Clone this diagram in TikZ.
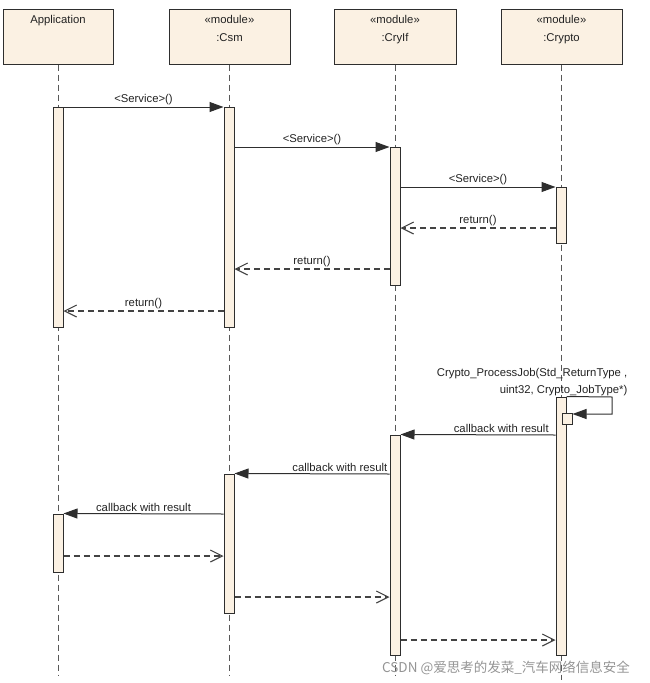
\documentclass[tikz,border=0pt]{standalone}
\usepackage{fontspec}
\setmainfont{Liberation Sans}
\newfontfamily\cjk{Noto Sans CJK SC}
\usetikzlibrary{arrows.meta}
\definecolor{bg}{HTML}{FBF1E3}
\definecolor{ln}{HTML}{2E2E2E}
\definecolor{tx}{HTML}{222222}
\begin{document}
\begin{tikzpicture}[x=1pt,y=-1pt,
  font=\fontsize{11.3}{12}\selectfont,
  hdr/.style={draw=ln, fill=bg, line width=1pt, minimum height=55pt, inner sep=0pt},
  hdrtext/.style={anchor=north, align=center, text=tx, inner sep=0pt, font=\fontsize{11.3}{18}\selectfont},
  act/.style={draw=ln, fill=bg, line width=1pt, minimum width=10pt, inner sep=0pt},
  life/.style={draw=ln!80, dash pattern=on 6pt off 4pt, line width=1pt},
  call/.style={draw=ln, line width=1pt, -{Triangle[length=14pt,width=10pt]}},
  ret/.style={draw=ln!90, line width=1.1pt, dash pattern=on 6pt off 4pt, -{Straight Barb[length=12pt,width=12pt]}},
  lbl/.style={text=tx, inner sep=1.5pt}
]
\useasboundingbox (0,0) rectangle (650,683);

% headers
\node[hdr, minimum width=110pt] (app) at (58,36.5) {};
\node[hdr, minimum width=121pt] (csm) at (229.5,36.5) {};
\node[hdr, minimum width=122pt] (cryif) at (395,36.5) {};
\node[hdr, minimum width=121pt] (crypto) at (561.5,36.5) {};
\node[hdrtext] (appt) at (58,15) {Application};
\node[hdrtext] (csmt) at (229.5,15) {«module»\\:Csm};
\node[hdrtext] (cryift) at (395,15) {«module»\\:CryIf};
\node[hdrtext] (cryptot) at (561.5,15) {«module»\\:Crypto};

% lifeline ends
\coordinate (appE) at (58,676);
\coordinate (csmE) at (229,676);
\coordinate (cryifE) at (395,676);
\coordinate (cryptoE) at (561,680);
\draw[life] (app.south) -- (appE);
\draw[life] (app.south -| 229,0) -- (csmE);
\draw[life] (cryif.south) -- (cryifE);
\draw[life] (crypto.south -| 561,0) -- (cryptoE);

% activations
\node[act, minimum height=220pt] (a1) at (58,217) {};
\node[act, minimum height=220pt] (s1) at (229,217) {};
\node[act, minimum height=138pt] (i1) at (395,216) {};
\node[act, minimum height=56pt] (c1) at (561,215) {};
\node[act, minimum height=258pt] (c2) at (561,526) {};
\node[act, minimum height=11pt] (c3) at (567,418.5) {};
\node[act, minimum height=220pt] (i2) at (395,545) {};
\node[act, minimum height=139pt] (s2) at (229,543.5) {};
\node[act, minimum height=58pt] (a2) at (58,543) {};

% service calls
\draw[call] (a1.east |- 0,107) -- node[lbl, above] (m1) {<Service>()} (s1.west |- 0,107);
\draw[call] (s1.east |- 0,147) -- node[lbl, above] (m2) {<Service>()} (i1.west |- 0,147);
\draw[call] (i1.east |- 0,187) -- node[lbl, above] (m3) {<Service>()} (c1.west |- 0,187);
\draw[ret] (c1.west |- 0,228) -- node[lbl, above] (r1) {return()} (i1.east |- 0,228);
\draw[ret] (i1.west |- 0,269) -- node[lbl, above] (r2) {return()} (s1.east |- 0,269);
\draw[ret] (s1.west |- 0,311) -- node[lbl, above] (r3) {return()} (a1.east |- 0,311);

% self call
\coordinate (lp1) at (612,397);
\coordinate (lp2) at (612,414);
\draw[call] (c2.north east) -- (lp1) -- (lp2) -- (c3.east |- lp2);
\node[lbl, anchor=south east, align=right, font=\fontsize{11.3}{17}\selectfont] (pj) at (629,398)
  {Crypto\_ProcessJob(Std\_ReturnType ,\\uint32, Crypto\_JobType*)};

% callbacks
\draw[call] (c2.west |- 0,435) -- node[lbl, above, pos=0.35] (cb1) {callback with result} (i2.north east);
\draw[call] (i2.west |- 0,474) -- node[lbl, above, pos=0.32] (cb2) {callback with result} (s2.north east);
\draw[call] (s2.west |- 0,514) -- node[lbl, above, pos=0.5] (cb3) {callback with result} (a2.north east);

% returns after callbacks
\draw[ret] (a2.east |- 0,556) -- (s2.west |- 0,556);
\draw[ret] (s2.east |- 0,597) -- (i2.west |- 0,597);
\draw[ret] (i2.east |- 0,640) -- (c2.west |- 0,640);

% watermark
\node[text=black!42, inner sep=0pt, font=\cjk\fontsize{13.5}{15}\selectfont] (wm) at (506,668) {CSDN @爱思考的发菜\_汽车网络信息安全};
\end{tikzpicture}
\end{document}
